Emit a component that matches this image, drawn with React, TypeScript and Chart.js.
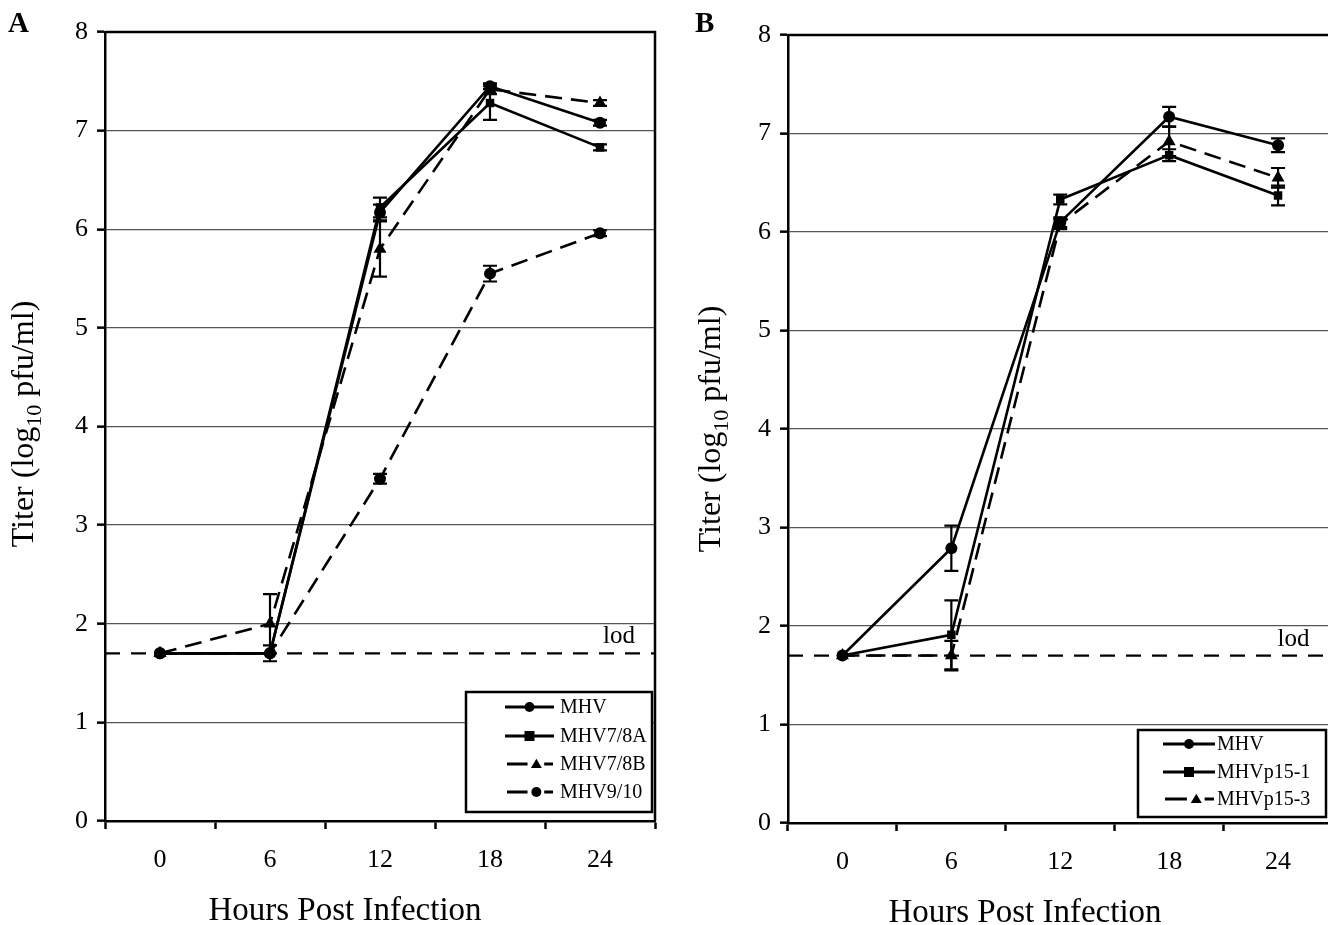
import React, { useEffect, useRef } from 'react';
import { Chart, registerables } from 'chart.js';

Chart.register(...registerables);

// ---------- data ----------
const HOURS = ['0', '6', '12', '18', '24'];
const Y_MIN = 0;
const Y_MAX = 8;
const LOD = 1.7;

const A_NAMES = ['MHV', 'MHV7/8A', 'MHV7/8B', 'MHV9/10'];
const A_MHV = [1.7, 1.7, 6.17, 7.45, 7.08];
const A_MHV78A = [1.7, 1.7, 6.22, 7.28, 6.83];
const A_MHV78B = [1.7, 2.0, 5.8, 7.42, 7.28];
const A_MHV910 = [1.7, 1.7, 3.47, 5.55, 5.96];
const A_MHV_ERR = [0, 0, 0.08, 0.03, 0.03];
const A_MHV78A_ERR = [0, 0.08, 0.1, 0.17, 0.03];
const A_MHV78B_ERR = [0, 0.3, 0.28, 0.05, 0.03];
const A_MHV910_ERR = [0, 0, 0.05, 0.08, 0.03];

const B_NAMES = ['MHV', 'MHVp15-1', 'MHVp15-3'];
const B_MHV = [1.7, 2.79, 6.1, 7.17, 6.88];
const B_P151 = [1.7, 1.91, 6.33, 6.78, 6.37];
const B_P153 = [1.7, 1.7, 6.08, 6.92, 6.55];
const B_MHV_ERR = [0, 0.23, 0.05, 0.1, 0.07];
const B_P151_ERR = [0, 0.35, 0.05, 0.06, 0.1];
const B_P153_ERR = [0, 0.15, 0.05, 0.15, 0.1];

const X_TITLE = 'Hours Post Infection';
const Y_TITLE_PRE = 'Titer (log';
const Y_TITLE_SUB = '10';
const Y_TITLE_POST = ' pfu/ml)';

const FONT = '"Liberation Serif", "Times New Roman", serif';
const DASH = [17, 9];

// ---------- helpers ----------
function drawMarker(ctx: CanvasRenderingContext2D, style: string, x: number, y: number, r: number) {
  ctx.save();
  ctx.setLineDash([]);
  ctx.fillStyle = '#000';
  ctx.beginPath();
  if (style === 'circle') {
    ctx.arc(x, y, r, 0, Math.PI * 2);
  } else if (style === 'rect') {
    ctx.rect(x - r, y - r, r * 2, r * 2);
  } else {
    const h = r * 1.6;
    ctx.moveTo(x, y - h * 0.6);
    ctx.lineTo(x + r, y + h * 0.45);
    ctx.lineTo(x - r, y + h * 0.45);
    ctx.closePath();
  }
  ctx.fill();
  ctx.restore();
}

const framePlugin = {
  id: 'frame',
  beforeDatasetsDraw(chart: any) {
    const { ctx, chartArea, scales } = chart;
    const y = scales.y;
    const o = chart.options.plugins.frame || {};
    ctx.save();
    // lod line
    const py = y.getPixelForValue(LOD);
    ctx.strokeStyle = '#000';
    ctx.lineWidth = 2.2;
    ctx.setLineDash([15, 11]);
    ctx.beginPath();
    ctx.moveTo(chartArea.left, py);
    ctx.lineTo(chartArea.right, py);
    ctx.stroke();
    ctx.setLineDash([]);
    ctx.fillStyle = '#000';
    ctx.font = `25px ${FONT}`;
    ctx.textAlign = 'right';
    ctx.textBaseline = 'alphabetic';
    ctx.fillText('lod', chartArea.right - (o.lodRight || 20), py - 10);
    // box
    ctx.lineWidth = 2.5;
    ctx.beginPath();
    ctx.moveTo(chartArea.left, chartArea.top);
    ctx.lineTo(chartArea.right, chartArea.top);
    ctx.lineTo(chartArea.right, chartArea.bottom);
    ctx.stroke();
    ctx.restore();
  },
};

const errorBarPlugin = {
  id: 'errorBars',
  afterDatasetsDraw(chart: any) {
    const ctx = chart.ctx;
    const y = chart.scales.y;
    chart.data.datasets.forEach((ds: any, i: number) => {
      const errs = ds.errors;
      if (!errs) return;
      const meta = chart.getDatasetMeta(i);
      meta.data.forEach((pt: any, j: number) => {
        const e = errs[j];
        if (!e) return;
        const v = ds.data[j];
        const yt = y.getPixelForValue(v + e);
        const yb = y.getPixelForValue(v - e);
        ctx.save();
        ctx.strokeStyle = '#000';
        ctx.lineWidth = 2.2;
        ctx.setLineDash([]);
        ctx.beginPath();
        ctx.moveTo(pt.x, yt);
        ctx.lineTo(pt.x, yb);
        ctx.moveTo(pt.x - 7, yt);
        ctx.lineTo(pt.x + 7, yt);
        ctx.moveTo(pt.x - 7, yb);
        ctx.lineTo(pt.x + 7, yb);
        ctx.stroke();
        ctx.restore();
      });
    });
  },
};

const legendPlugin = {
  id: 'boxLegend',
  afterDraw(chart: any) {
    const o = chart.options.plugins.boxLegend;
    if (!o) return;
    const ctx = chart.ctx;
    ctx.save();
    ctx.fillStyle = '#fff';
    ctx.fillRect(o.x, o.y, o.w, o.h);
    ctx.strokeStyle = '#000';
    ctx.lineWidth = 2.5;
    ctx.setLineDash([]);
    ctx.strokeRect(o.x, o.y, o.w, o.h);
    chart.data.datasets.forEach((ds: any, i: number) => {
      const ry = o.rows[i];
      const dashed = ds.borderDash && ds.borderDash.length;
      ctx.strokeStyle = '#000';
      ctx.lineWidth = 3;
      ctx.setLineDash([]);
      ctx.beginPath();
      let mx: number;
      if (dashed) {
        const span = o.lx2 - o.lx1;
        ctx.moveTo(o.lx1 + 2, ry);
        ctx.lineTo(o.lx1 + span * 0.46, ry);
        ctx.moveTo(o.lx1 + span * 0.8, ry);
        ctx.lineTo(o.lx2 - 1, ry);
        mx = o.lx1 + span * 0.64;
      } else {
        ctx.moveTo(o.lx1, ry);
        ctx.lineTo(o.lx2, ry);
        mx = (o.lx1 + o.lx2) / 2;
      }
      ctx.stroke();
      drawMarker(ctx, ds.pointStyle, mx, ry, ds.pointStyle === 'triangle' ? 5.5 : 5);
      ctx.fillStyle = '#000';
      ctx.font = `20px ${FONT}`;
      ctx.textAlign = 'left';
      ctx.textBaseline = 'middle';
      ctx.fillText(ds.label, o.tx, ry + 1);
    });
    ctx.restore();
  },
};

const titlePlugin = {
  id: 'titles',
  afterDraw(chart: any) {
    const o = chart.options.plugins.titles;
    const ctx = chart.ctx;
    ctx.save();
    ctx.fillStyle = '#000';
    // x title
    ctx.font = `33px ${FONT}`;
    ctx.textAlign = 'center';
    ctx.textBaseline = 'alphabetic';
    ctx.fillText(X_TITLE, o.xCx, o.xBase);
    // y title with subscript
    const main = `32px ${FONT}`;
    const sub = `22px ${FONT}`;
    ctx.font = main;
    const w1 = ctx.measureText(Y_TITLE_PRE).width;
    const w3 = ctx.measureText(Y_TITLE_POST).width;
    ctx.font = sub;
    const w2 = ctx.measureText(Y_TITLE_SUB).width;
    const total = w1 + w2 + w3;
    ctx.translate(o.yCx, o.yCy);
    ctx.rotate(-Math.PI / 2);
    ctx.textAlign = 'left';
    ctx.textBaseline = 'middle';
    let x = -total / 2;
    ctx.font = main;
    ctx.fillText(Y_TITLE_PRE, x, 0);
    x += w1;
    ctx.font = sub;
    ctx.fillText(Y_TITLE_SUB, x, 10);
    x += w2;
    ctx.font = main;
    ctx.fillText(Y_TITLE_POST, x, 0);
    ctx.restore();
    // panel letter
    ctx.save();
    ctx.fillStyle = '#000';
    ctx.font = `bold 29px ${FONT}`;
    ctx.textAlign = 'left';
    ctx.textBaseline = 'alphabetic';
    ctx.fillText(o.letter, o.letterX, 32);
    ctx.restore();
  },
};

function makeDataset(label: string, data: number[], errors: number[], style: string, dashed: boolean, r: number) {
  return {
    label,
    data,
    errors,
    borderColor: '#000',
    backgroundColor: '#000',
    borderWidth: 2.6,
    borderDash: dashed ? DASH : [],
    pointStyle: style,
    pointRadius: r,
    pointBorderWidth: 0,
    pointBackgroundColor: '#000',
    tension: 0,
    fill: false,
  };
}

function buildOptions(p: {
  rightPad: number; topPad: number; xH: number; yW: number; legend: any; titles: any; lodRight: number;
}) {
  return {
    responsive: false,
    animation: false as const,
    events: [],
    layout: { padding: { left: 0, right: p.rightPad, top: p.topPad, bottom: 0 } },
    plugins: {
      legend: { display: false },
      tooltip: { enabled: false },
      boxLegend: p.legend,
      titles: p.titles,
      frame: { lodRight: p.lodRight },
    },
    scales: {
      x: {
        type: 'category' as const,
        offset: true,
        grid: {
          offset: true,
          drawOnChartArea: false,
          drawTicks: true,
          tickLength: 8,
          tickWidth: 2.5,
          tickColor: '#000',
        },
        border: { color: '#000', width: 2.5 },
        ticks: { color: '#000', font: { family: FONT, size: 26 }, padding: 16, maxRotation: 0 },
        afterFit: (s: any) => { s.height = p.xH; },
      },
      y: {
        min: Y_MIN,
        max: Y_MAX,
        ticks: { stepSize: 1, color: '#000', font: { family: FONT, size: 26 }, padding: 9 },
        grid: { color: '#555', lineWidth: 1.3, tickLength: 8, tickWidth: 2.5, tickColor: '#000' },
        border: { color: '#000', width: 2.5 },
        afterFit: (s: any) => { s.width = p.yW; },
      },
    },
  };
}

function ChartCanvas({ config, width, height }: { config: any; width: number; height: number }) {
  const ref = useRef<HTMLCanvasElement | null>(null);
  useEffect(() => {
    if (!ref.current) return;
    const chart = new Chart(ref.current, {
      ...config,
      plugins: [framePlugin, errorBarPlugin, legendPlugin, titlePlugin],
    });
    return () => chart.destroy();
  }, []);
  return <canvas ref={ref} width={width} height={height} style={{ width, height, display: 'block' }} />;
}

const configA = {
  type: 'line',
  data: {
    labels: HOURS,
    datasets: [
      makeDataset(A_NAMES[0], A_MHV, A_MHV_ERR, 'circle', false, 6),
      makeDataset(A_NAMES[1], A_MHV78A, A_MHV78A_ERR, 'rect', false, 6),
      makeDataset(A_NAMES[2], A_MHV78B, A_MHV78B_ERR, 'triangle', true, 7.5),
      makeDataset(A_NAMES[3], A_MHV910, A_MHV910_ERR, 'circle', true, 6),
    ],
  },
  options: buildOptions({
    rightPad: 15,
    topPad: 32,
    xH: 925 - 821,
    yW: 105,
    lodRight: 20,
    legend: { x: 466, y: 692, w: 186, h: 120, lx1: 505, lx2: 554, tx: 560, rows: [707, 736, 764, 792] },
    titles: { xCx: 345, xBase: 920, yCx: 25, yCy: 424, letter: 'A', letterX: 8 },
  }),
};

const configB = {
  type: 'line',
  data: {
    labels: HOURS,
    datasets: [
      makeDataset(B_NAMES[0], B_MHV, B_MHV_ERR, 'circle', false, 6),
      makeDataset(B_NAMES[1], B_P151, B_P151_ERR, 'rect', false, 6),
      makeDataset(B_NAMES[2], B_P153, B_P153_ERR, 'triangle', true, 7.5),
    ],
  },
  options: buildOptions({
    rightPad: 2,
    topPad: 35,
    xH: 925 - 823,
    yW: 108,
    lodRight: 23,
    legend: { x: 458, y: 730, w: 188, h: 87, lx1: 483, lx2: 535, tx: 537, rows: [744, 772, 799] },
    titles: { xCx: 345, xBase: 922, yCx: 32, yCy: 429, letter: 'B', letterX: 15 },
  }),
};

export default function App() {
  return (
    <div style={{ position: 'absolute', left: 0, top: 0, width: 1328, height: 925, overflow: 'hidden', background: '#fff' }}>
      <div style={{ position: 'absolute', left: 0, top: 0 }}>
        <ChartCanvas config={configA} width={670} height={925} />
      </div>
      <div style={{ position: 'absolute', left: 680, top: 0 }}>
        <ChartCanvas config={configB} width={660} height={925} />
      </div>
    </div>
  );
}
